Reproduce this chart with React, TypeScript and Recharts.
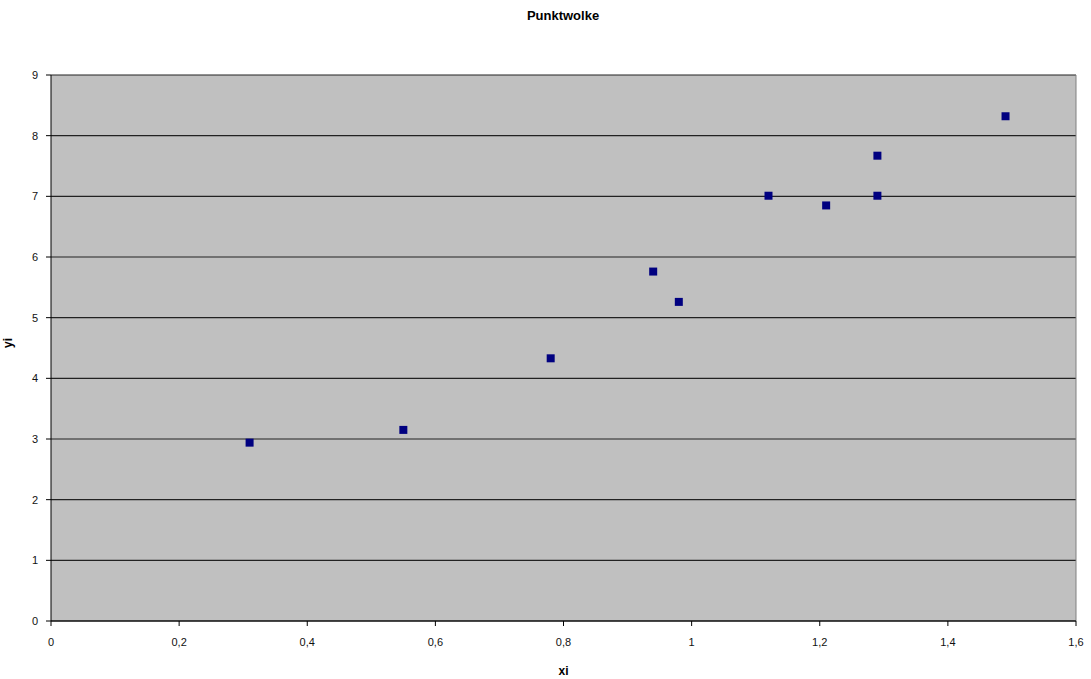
import React from 'react';
import {
  ScatterChart,
  Scatter,
  XAxis,
  YAxis,
  ZAxis,
  CartesianGrid,
  ReferenceLine
} from 'recharts';

// values
const xiValues = [0.31, 0.55, 0.78, 0.94, 0.98, 1.12, 1.21, 1.29, 1.29, 1.49];
const yiValues = [2.94, 3.15, 4.33, 5.76, 5.26, 7.01, 6.85, 7.67, 7.01, 8.32];
const xTicks = [0, 0.2, 0.4, 0.6, 0.8, 1, 1.2, 1.4, 1.6];
const yTicks = [0, 1, 2, 3, 4, 5, 6, 7, 8, 9];

const points = xiValues.map((x, i) => ({ x, y: yiValues[i] }));

const fmt = (v: number) => String(v).replace('.', ',');

const font = 'Liberation Sans, Arial, sans-serif';

const App: React.FC = () => {
  return (
    <div style={{ position: 'absolute', left: 0, top: 0, width: 1091, height: 679, background: '#fff' }}>
      <div
        style={{
          position: 'absolute',
          left: 0,
          width: 1126,
          top: 8,
          textAlign: 'center',
          fontFamily: font,
          fontWeight: 'bold',
          fontSize: 13
        }}
      >
        Punktwolke
      </div>
      <ScatterChart
        width={1091}
        height={679}
        margin={{ top: 75, right: 15, left: 0, bottom: 0 }}
      >
        <CartesianGrid
          vertical={false}
          fill="#c0c0c0"
          stroke="#222"
          strokeWidth={1.2}
          horizontalValues={yTicks}
        />
        <ReferenceLine x={1.6} stroke="#808080" />
        <XAxis
          type="number"
          dataKey="x"
          domain={[0, 1.6]}
          ticks={xTicks}
          tickFormatter={fmt}
          height={58}
          stroke="#000"
          tickSize={5}
          tickMargin={12}
          tick={{ fill: '#111', fontSize: 11, fontFamily: font }}
          label={{ value: 'xi', position: 'insideBottom', offset: 4, fontWeight: 'bold', fontSize: 12, fill: '#000', fontFamily: font }}
        />
        <YAxis
          type="number"
          dataKey="y"
          domain={[0, 9]}
          ticks={yTicks}
          width={51}
          stroke="#000"
          tickSize={5}
          tickMargin={8}
          tick={{ fill: '#111', fontSize: 11, fontFamily: font }}
          label={{ value: 'yi', angle: -90, position: 'insideLeft', offset: 8, fontWeight: 'bold', fontSize: 12, fill: '#000', fontFamily: font }}
        />
        <ZAxis range={[110, 110]} />
        <Scatter
          data={points}
          shape="square"
          fill="#000080"
          legendType="none"
          isAnimationActive={false}
        />
      </ScatterChart>
    </div>
  );
};

export default App;
